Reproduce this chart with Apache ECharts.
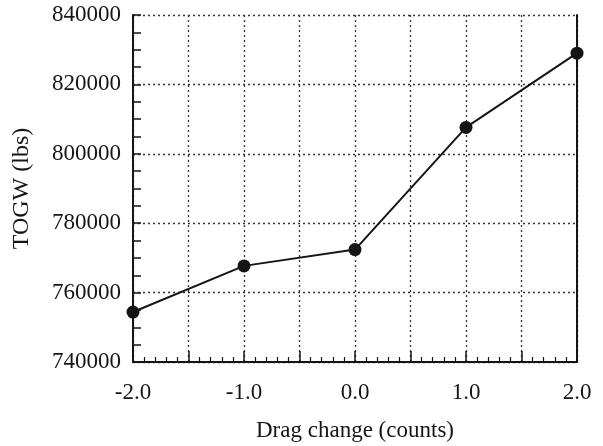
<!DOCTYPE html>
<html>
<head>
<meta charset="utf-8">
<script src="https://cdn.jsdelivr.net/npm/echarts@6/dist/echarts.min.js"></script>
<style>
  html, body { margin: 0; padding: 0; background: #fff; }
  #main { width: 603px; height: 446px; }
</style>
</head>
<body>
<div id="main"></div>
<script>
// drag change (counts) vs take-off gross weight
var dragChange = [-2.0, -1.0, 0.0, 1.0, 2.0];
var togw = [754400, 767700, 772400, 807600, 829000];
var yTicks = [740000, 760000, 780000, 800000, 820000, 840000];
var xTicks = [-2.0, -1.0, 0.0, 1.0, 2.0];

var font = '"Liberation Serif", "DejaVu Serif", serif';
var ink = '#151515';

var myChart = echarts.init(document.getElementById('main'));
var option = {
	backgroundColor: '#fff',
	animation: false,
	grid: {
		left: 133,
		right: 26,
		top: 15,
		bottom: 84,
		outerBoundsMode: 'none'
	},
	xAxis: {
		type: 'value',
		min: xTicks[0],
		max: xTicks[xTicks.length - 1],
		interval: 0.5,
		name: 'Drag change (counts)',
		nameLocation: 'middle',
		nameGap: 57,
		nameTextStyle: { fontFamily: font, fontSize: 23, color: ink },
		axisLine: { show: true, onZero: false, lineStyle: { color: ink, width: 2 } },
		axisTick: { show: true, inside: true, length: 11, lineStyle: { color: ink, width: 1.5 } },
		minorTick: { show: true, splitNumber: 5, length: 5, lineStyle: { color: ink, width: 1.2 } },
		axisLabel: {
			fontFamily: font, fontSize: 23, color: ink, margin: 19,
			formatter: function (v) {
				return xTicks.indexOf(v) >= 0 ? v.toFixed(1) : '';
			}
		},
		splitLine: { show: true, lineStyle: { color: '#333', type: [2, 3], width: 1.3 } }
	},
	yAxis: [{
		type: 'value',
		min: yTicks[0],
		max: yTicks[yTicks.length - 1],
		interval: 20000,
		name: 'TOGW (lbs)',
		nameLocation: 'middle',
		nameGap: 99,
		nameRotate: 90,
		nameTextStyle: { fontFamily: font, fontSize: 24, color: ink },
		axisLine: { show: true, onZero: false, lineStyle: { color: ink, width: 2 } },
		axisTick: { show: true, inside: true, length: 8, lineStyle: { color: ink, width: 1.5 } },
		minorTick: { show: true, splitNumber: 4, length: 8, lineStyle: { color: ink, width: 1.5 } },
		axisLabel: {
			fontFamily: font, fontSize: 23, color: ink, margin: 12,
			formatter: function (v) { return String(v); }
		},
		splitLine: { show: true, lineStyle: { color: '#333', type: [2, 3], width: 1.3 } }
	}, {
		type: 'value',
		position: 'right',
		min: yTicks[0],
		max: yTicks[yTicks.length - 1],
		interval: 20000,
		axisLine: { show: true, onZero: false, lineStyle: { color: ink, width: 2 } },
		axisTick: { show: false },
		axisLabel: { show: false },
		splitLine: { show: false }
	}],
	series: [{
		type: 'line',
		data: dragChange.map(function (x, i) { return [x, togw[i]]; }),
		symbol: 'circle',
		symbolSize: 13,
		itemStyle: { color: ink },
		lineStyle: { color: ink, width: 2 }
	}]
};
myChart.setOption(option);
</script>
</body>
</html>
